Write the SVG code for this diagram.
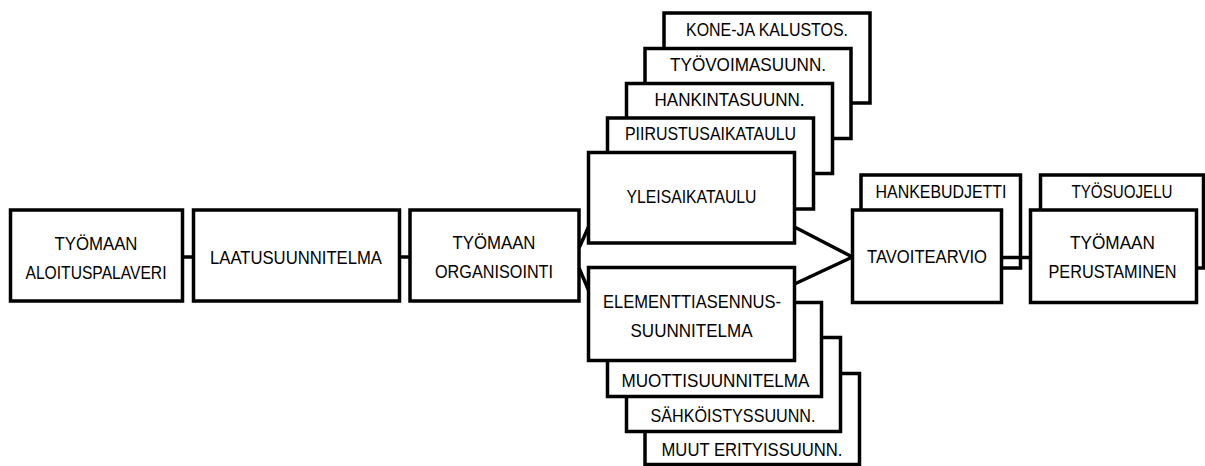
<svg xmlns="http://www.w3.org/2000/svg" width="1205" height="466" viewBox="0 0 1205 466">
<style>
.b{fill:#fff;stroke:#000;stroke-width:3.5}
.t{font-family:"Liberation Sans",Arial,sans-serif;font-size:18px;fill:#000;text-anchor:middle}
.c{stroke:#000;stroke-width:3.5;fill:none}
</style>
<rect width="1205" height="466" fill="#fff"/>
<g id="n1"><rect class="b" x="10.5" y="210" width="172" height="91"/><text class="t" x="96" y="250" textLength="83" lengthAdjust="spacingAndGlyphs">TYÖMAAN</text><text class="t" x="96" y="279" textLength="141" lengthAdjust="spacingAndGlyphs">ALOITUSPALAVERI</text></g>
<g id="n2"><rect class="b" x="193.5" y="210" width="206" height="91"/><text class="t" x="296" y="264" textLength="172" lengthAdjust="spacingAndGlyphs">LAATUSUUNNITELMA</text></g>
<g id="n3"><rect class="b" x="410" y="210" width="169" height="91"/><text class="t" x="494" y="249" textLength="83" lengthAdjust="spacingAndGlyphs">TYÖMAAN</text><text class="t" x="494" y="278" textLength="118" lengthAdjust="spacingAndGlyphs">ORGANISOINTI</text></g>
<g id="n_kone"><rect class="b" x="664" y="13" width="206" height="90"/><text class="t" x="767" y="36" textLength="162" lengthAdjust="spacingAndGlyphs">KONE-JA KALUSTOS.</text></g>
<g id="n_tyovoima"><rect class="b" x="645" y="48.5" width="206" height="90"/><text class="t" x="748" y="71" textLength="156" lengthAdjust="spacingAndGlyphs">TYÖVOIMASUUNN.</text></g>
<g id="n_hankinta"><rect class="b" x="626.5" y="83.5" width="206" height="90"/><text class="t" x="729.5" y="106" textLength="150" lengthAdjust="spacingAndGlyphs">HANKINTASUUNN.</text></g>
<g id="n_piirustus"><rect class="b" x="607.5" y="118" width="206" height="91"/><text class="t" x="710.5" y="140" textLength="171" lengthAdjust="spacingAndGlyphs">PIIRUSTUSAIKATAULU</text></g>
<g id="n_yleis"><rect class="b" x="588.5" y="152.5" width="206" height="90.5"/><text class="t" x="691.5" y="203" textLength="130" lengthAdjust="spacingAndGlyphs">YLEISAIKATAULU</text></g>
<g id="n_muut"><rect class="b" x="645" y="373.5" width="214.5" height="91"/><text class="t" x="752" y="456" textLength="181" lengthAdjust="spacingAndGlyphs">MUUT ERITYISSUUNN.</text></g>
<g id="n_sahko"><rect class="b" x="626.5" y="337.5" width="214" height="94"/><text class="t" x="733" y="422" textLength="165" lengthAdjust="spacingAndGlyphs">SÄHKÖISTYSSUUNN.</text></g>
<g id="n_muotti"><rect class="b" x="607.5" y="302.5" width="214" height="94"/><text class="t" x="715.5" y="387" textLength="188" lengthAdjust="spacingAndGlyphs">MUOTTISUUNNITELMA</text></g>
<g id="n_elementti"><rect class="b" x="588.5" y="267.5" width="206" height="93"/><text class="t" x="692" y="308" textLength="178" lengthAdjust="spacingAndGlyphs">ELEMENTTIASENNUS-</text><text class="t" x="691.5" y="337" textLength="122" lengthAdjust="spacingAndGlyphs">SUUNNITELMA</text></g>
<g id="n_hanke"><rect class="b" x="861" y="175" width="159.5" height="93"/><text class="t" x="941" y="198" textLength="131" lengthAdjust="spacingAndGlyphs">HANKEBUDJETTI</text></g>
<g id="n_tavoite"><rect class="b" x="852.5" y="210" width="149" height="92.5"/><text class="t" x="927" y="263" textLength="120" lengthAdjust="spacingAndGlyphs">TAVOITEARVIO</text></g>
<g id="n_tyosuojelu"><rect class="b" x="1040.5" y="175" width="163" height="93"/><text class="t" x="1122" y="198" textLength="101" lengthAdjust="spacingAndGlyphs">TYÖSUOJELU</text></g>
<g id="n_perust"><rect class="b" x="1030.5" y="210" width="166" height="92.5"/><text class="t" x="1112.5" y="249" textLength="85" lengthAdjust="spacingAndGlyphs">TYÖMAAN</text><text class="t" x="1112.5" y="278" textLength="128" lengthAdjust="spacingAndGlyphs">PERUSTAMINEN</text></g>
<g id="connectors">
<line class="c" x1="182.5" y1="257" x2="193.5" y2="257"/>
<line class="c" x1="399.5" y1="257" x2="410" y2="257"/>
<line class="c" x1="579" y1="248" x2="588.5" y2="227"/>
<line class="c" x1="579" y1="268" x2="588.5" y2="290"/>
<line class="c" x1="794.5" y1="227" x2="852.5" y2="257"/>
<line class="c" x1="794.5" y1="284" x2="852.5" y2="257"/>
<line class="c" x1="1001.5" y1="257.5" x2="1030.5" y2="257.5"/>
</g>
</svg>
